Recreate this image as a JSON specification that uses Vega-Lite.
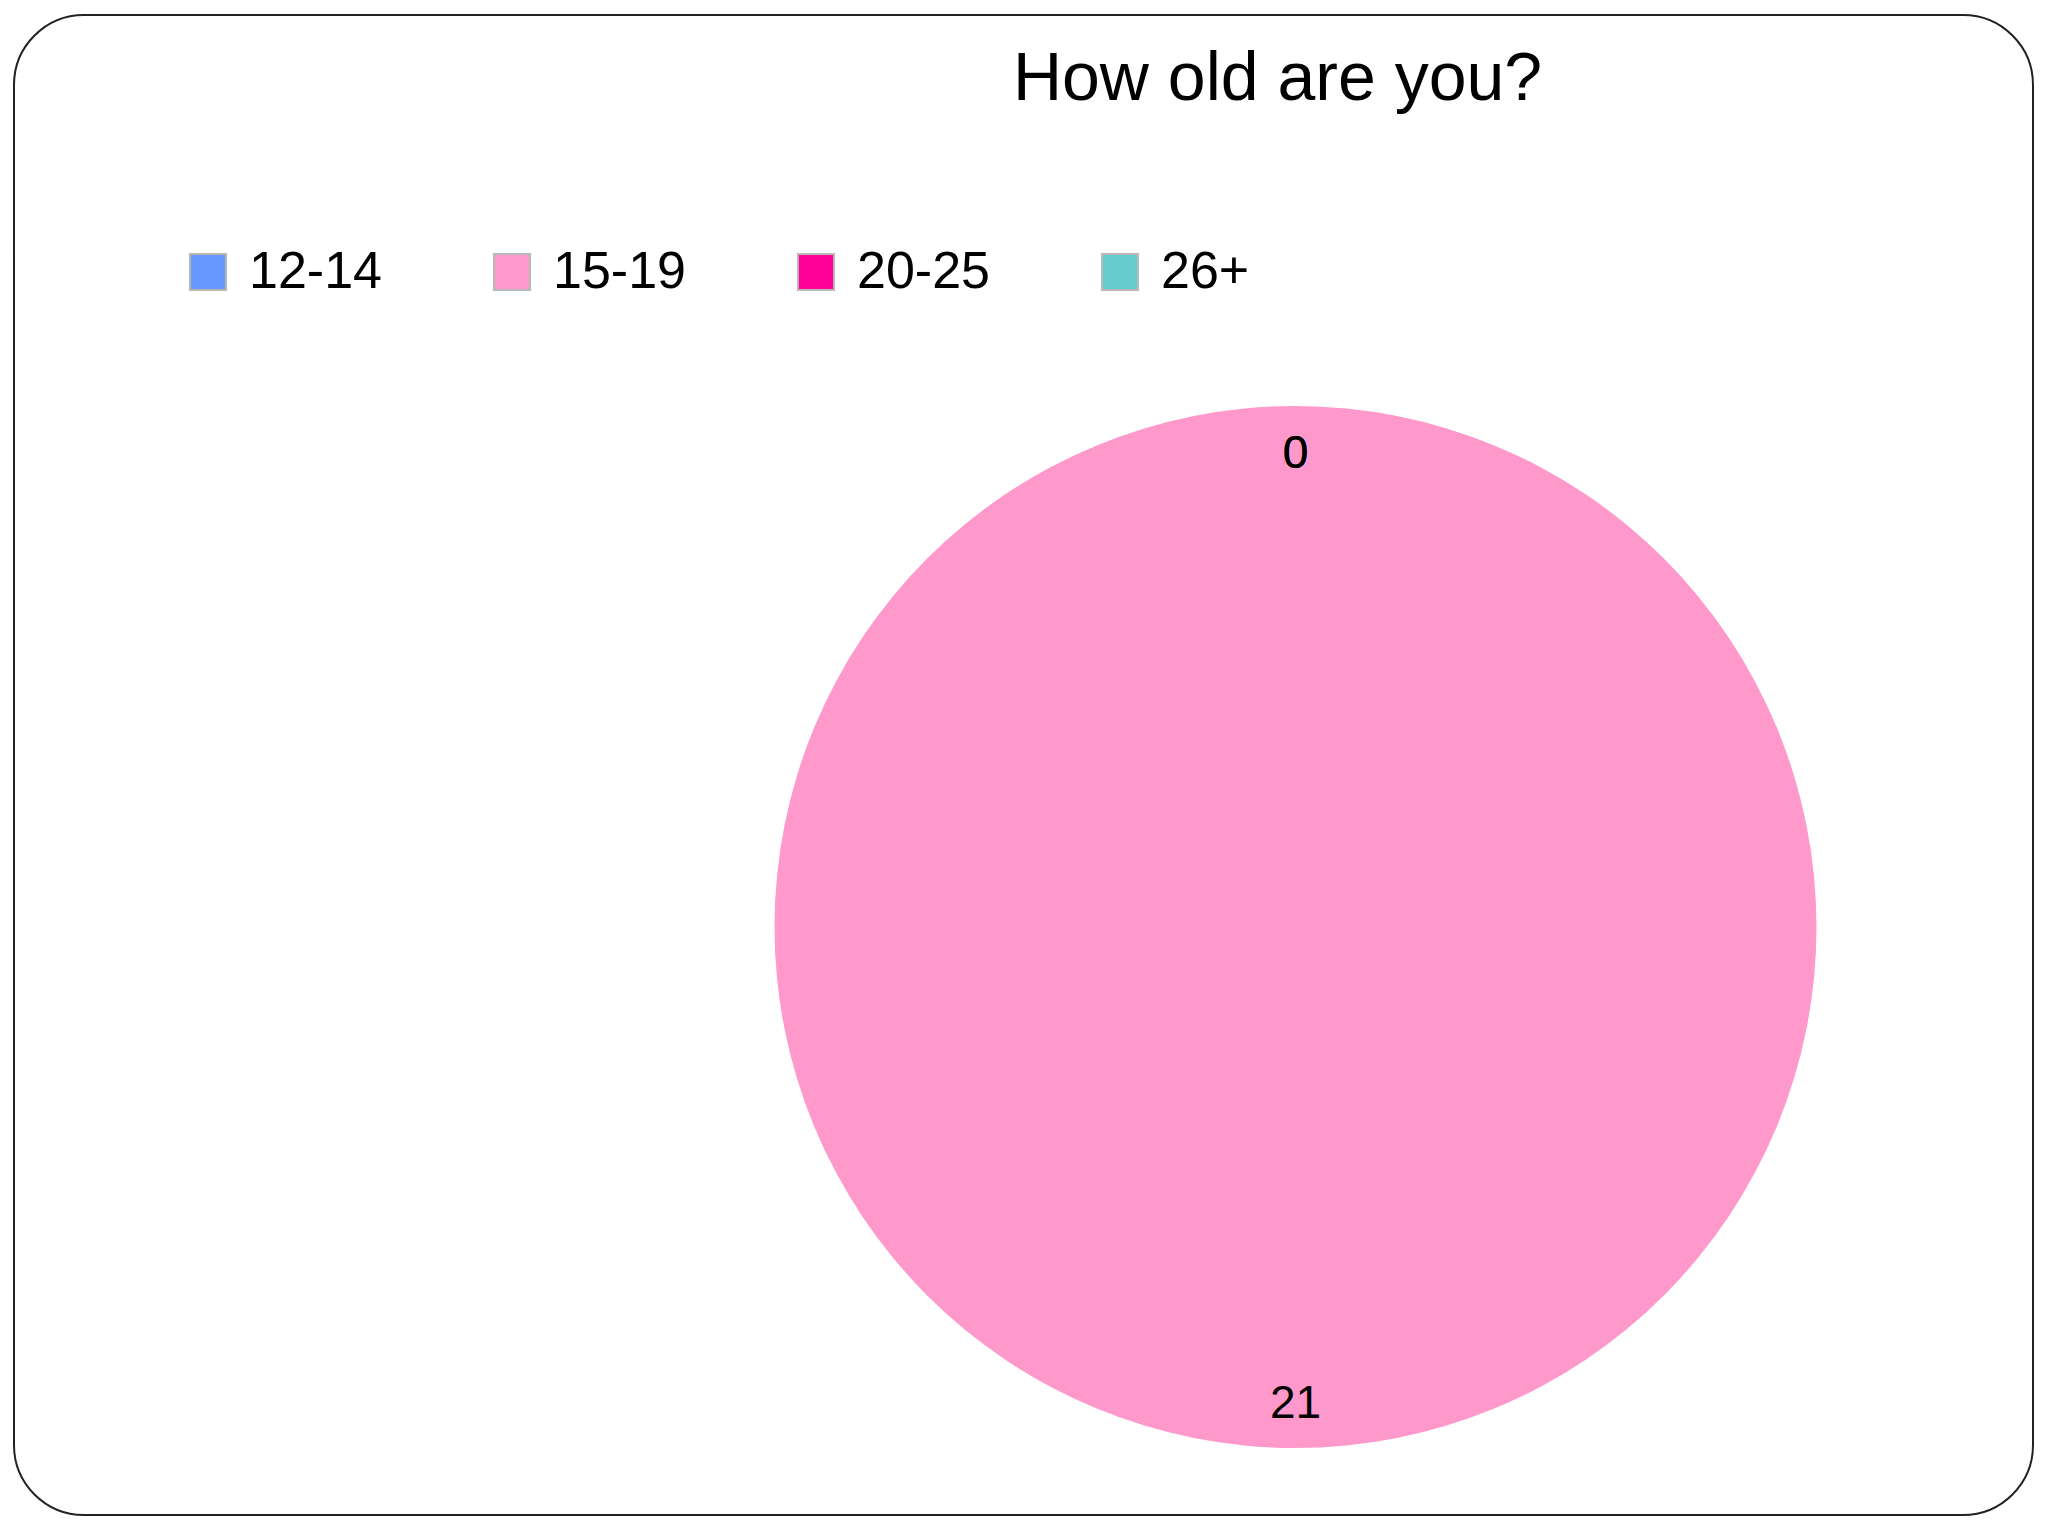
{
  "$schema": "https://vega.github.io/schema/vega-lite/v6.json",
  "width": 2019,
  "height": 1500,
  "autosize": {"type": "none"},
  "padding": {"left": 14, "top": 15, "right": 15, "bottom": 21},
  "background": "white",
  "view": {"stroke": "#222222", "strokeWidth": 2, "cornerRadius": 70, "fill": "white"},
  "config": {
    "view": {"stroke": "#222222", "strokeWidth": 2, "cornerRadius": 70},
    "font": "Liberation Sans"
  },
  "title": {
    "text": "How old are you?",
    "fontSize": 68,
    "fontWeight": "normal",
    "color": "black",
    "font": "Liberation Sans",
    "anchor": "middle",
    "frame": "group",
    "baseline": "alphabetic",
    "offset": 0,
    "dx": 254,
    "dy": 153
  },
  "data": {
    "values": [
      {"age": "12-14", "count": 0},
      {"age": "15-19", "count": 21},
      {"age": "20-25", "count": 0},
      {"age": "26+", "count": 0}
    ]
  },
  "encoding": {
    "theta": {"field": "count", "type": "quantitative", "stack": true}
  },
  "layer": [
    {
      "mark": {"type": "arc", "radius": 521, "xOffset": 272, "yOffset": 162, "strokeWidth": 0},
      "encoding": {
        "color": {
          "field": "age",
          "type": "nominal",
          "scale": {
            "domain": ["12-14", "15-19", "20-25", "26+"],
            "range": ["#6699FF", "#FF99CC", "#FF0099", "#66CCCC"]
          },
          "legend": {
            "orient": "none",
            "legendX": 168,
            "legendY": 231,
            "direction": "horizontal",
            "columns": 4,
            "gridAlign": "all",
            "columnPadding": 104,
            "title": null,
            "symbolType": "square",
            "symbolSize": 1300,
            "symbolStrokeColor": "#b8b8b8",
            "symbolStrokeWidth": 2,
            "symbolOpacity": 1,
            "labelFontSize": 52,
            "labelFont": "Liberation Sans",
            "labelColor": "black",
            "labelOffset": 15,
            "labelLimit": 400
          }
        }
      }
    },
    {
      "mark": {"type": "text", "radius": 475, "xOffset": 272, "yOffset": 164, "fontSize": 46, "font": "Liberation Sans", "color": "black", "align": "center", "baseline": "middle"},
      "encoding": {
        "text": {"field": "count", "type": "quantitative"},
        "detail": {"field": "age", "type": "nominal"}
      }
    }
  ]
}
